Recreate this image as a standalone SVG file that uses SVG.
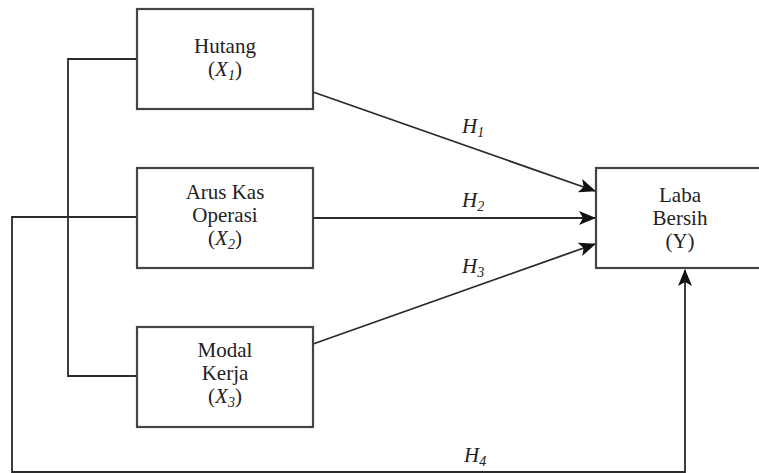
<svg xmlns="http://www.w3.org/2000/svg" width="759" height="473" viewBox="0 0 759 473">
<style>
.box{fill:#fff;stroke:#444;stroke-width:2.2}
.t{font-family:"Liberation Serif","Times New Roman",serif;font-size:21px;fill:#222;text-anchor:middle}
.i{font-style:italic}
.s{font-size:14px;font-style:italic}
.ln{fill:none;stroke:#2a2a2a;stroke-width:1.8}
.h{font-family:"Liberation Serif","Times New Roman",serif;font-size:21px;font-style:italic;fill:#222}
</style>
<defs>
<marker id="arr" viewBox="0 0 17 14" refX="16" refY="7" markerWidth="17" markerHeight="14" markerUnits="userSpaceOnUse" orient="auto">
<path d="M0,0 L17,7 L0,14 L4,7 Z" fill="#111"/>
</marker>
</defs>
<g id="connectors">
<polyline class="ln" points="137,59 68,59 68,376 137,376"/>
<polyline class="ln" points="137,217 12,217 12,472 685,472 685,270" marker-end="url(#arr)"/>
<line class="ln" x1="313" y1="92" x2="595" y2="191" marker-end="url(#arr)"/>
<line class="ln" x1="313" y1="218" x2="595" y2="218" marker-end="url(#arr)"/>
<line class="ln" x1="313" y1="344" x2="595" y2="244" marker-end="url(#arr)"/>
<text class="h" x="462" y="133">H<tspan class="s" dy="4">1</tspan></text>
<text class="h" x="462" y="207">H<tspan class="s" dy="4">2</tspan></text>
<text class="h" x="462" y="273">H<tspan class="s" dy="4">3</tspan></text>
<text class="h" x="464" y="462">H<tspan class="s" dy="4">4</tspan></text>
</g>
<g id="hutang">
<rect class="box" x="137" y="9" width="176" height="100"/>
<text class="t" x="225" y="53">Hutang</text>
<text class="t" x="225" y="76">(<tspan class="i">X</tspan><tspan class="s" dy="4">1</tspan><tspan dy="-4">)</tspan></text>
</g>
<g id="arus">
<rect class="box" x="137" y="168" width="176" height="100"/>
<text class="t" x="225" y="199">Arus Kas</text>
<text class="t" x="225" y="222">Operasi</text>
<text class="t" x="225" y="245">(<tspan class="i">X</tspan><tspan class="s" dy="4">2</tspan><tspan dy="-4">)</tspan></text>
</g>
<g id="modal">
<rect class="box" x="137" y="327" width="176" height="100"/>
<text class="t" x="225" y="357">Modal</text>
<text class="t" x="225" y="380">Kerja</text>
<text class="t" x="225" y="403">(<tspan class="i">X</tspan><tspan class="s" dy="4">3</tspan><tspan dy="-4">)</tspan></text>
</g>
<g id="laba">
<rect class="box" x="596" y="168" width="170" height="100"/>
<text class="t" x="680" y="202">Laba</text>
<text class="t" x="680" y="225">Bersih</text>
<text class="t" x="680" y="248">(Y)</text>
</g>
</svg>
